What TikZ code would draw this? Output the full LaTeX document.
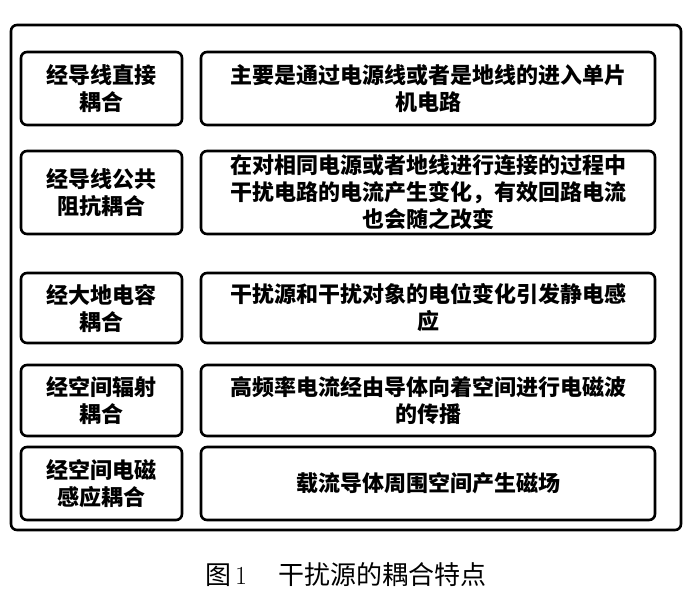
\documentclass[tikz,border=0pt]{standalone}
\usepackage{fontspec}
\newfontfamily\cjk{Noto Sans CJK SC}
\begin{document}
\begin{tikzpicture}[x=1pt,y=-1pt,
  frame/.style={draw=black,line width=2.6pt,rounded corners=6pt},
  cell/.style={draw=black,line width=2.6pt,rounded corners=6pt,align=center,inner sep=0pt,
    font=\cjk\bfseries\fontsize{22}{27}\selectfont},
  caption/.style={font=\cjk\fontsize{26}{30}\selectfont,inner sep=0pt}]
\useasboundingbox (0,0) rectangle (700,603);
\draw[frame] (11,25) rectangle (681,530);
% rows
\node[cell,minimum width=161pt,minimum height=73pt] (l1) at (101.5,88.5) {经导线直接\\耦合};
\node[cell,minimum width=454pt,minimum height=73pt] (r1) at (428,88.5) {主要是通过电源线或者是地线的进入单片\\机电路};
\node[cell,minimum width=161pt,minimum height=83pt] (l2) at (101.5,192.5) {经导线公共\\阻抗耦合};
\node[cell,minimum width=454pt,minimum height=83pt] (r2) at (428,192.5) {在对相同电源或者地线进行连接的过程中\\干扰电路的电流产生变化，有效回路电流\\也会随之改变};
\node[cell,minimum width=161pt,minimum height=70pt] (l3) at (101.5,308) {经大地电容\\耦合};
\node[cell,minimum width=454pt,minimum height=70pt] (r3) at (428,308) {干扰源和干扰对象的电位变化引发静电感\\应};
\node[cell,minimum width=161pt,minimum height=71pt] (l4) at (101.5,400.5) {经空间辐射\\耦合};
\node[cell,minimum width=454pt,minimum height=71pt] (r4) at (428,400.5) {高频率电流经由导体向着空间进行电磁波\\的传播};
\node[cell,minimum width=161pt,minimum height=73pt] (l5) at (101.5,483.5) {经空间电磁\\感应耦合};
\node[cell,minimum width=454pt,minimum height=73pt] (r5) at (428,483.5) {载流导体周围空间产生磁场};
\node[caption] (cap) at (346,575) {图\hspace{4pt}{\rmfamily 1}\hspace{32pt}干扰源的耦合特点};
\end{tikzpicture}
\end{document}
